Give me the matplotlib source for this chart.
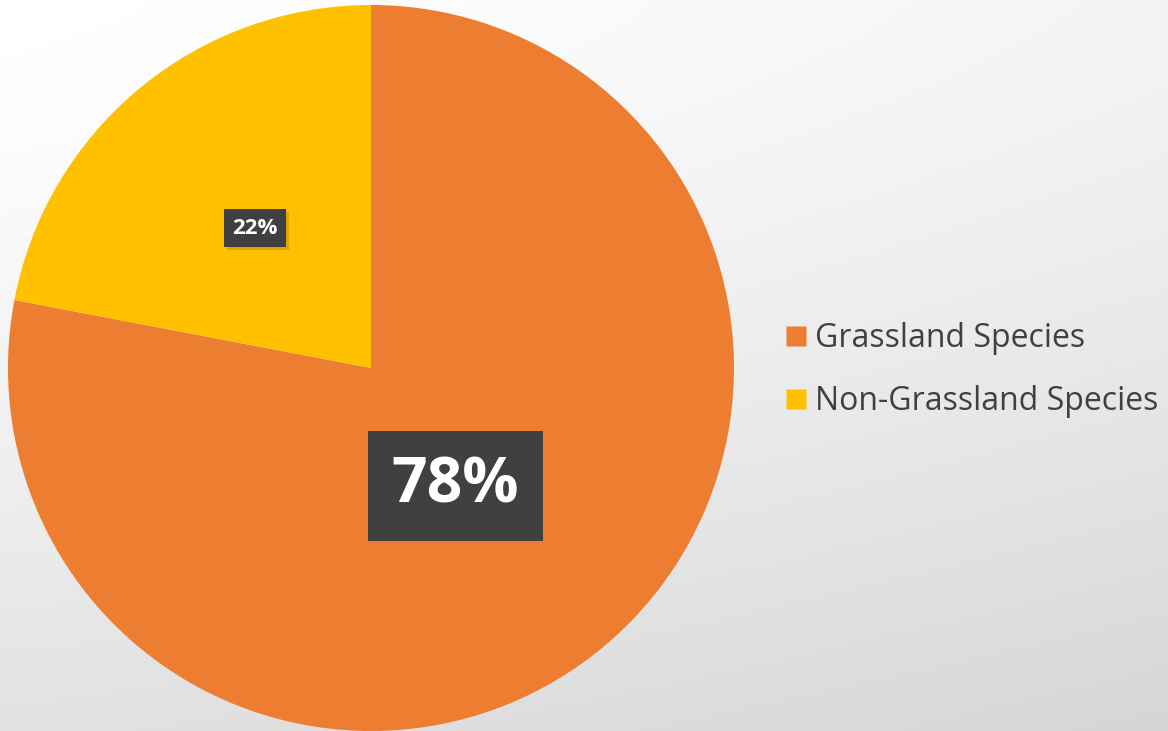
import numpy as np
import matplotlib
matplotlib.use('Agg')
import matplotlib.pyplot as plt
from matplotlib.lines import Line2D
import matplotlib.patheffects as pe

categories = ['Grassland Species', 'Non-Grassland Species']
shares = [78, 22]
colors = ['#ED7D31', '#FFC000']
label_sizes = [45, 16]
label_dist = [0.40, 0.50]
label_shift = [-4, 0]   # degrees, nudge off the wedge middle

fig = plt.figure(figsize=(11.68, 7.31), dpi=100)

# soft grey background gradient
bg = fig.add_axes([0, 0, 1, 1])
yy, xx = np.mgrid[0:1:300j, 0:1:480j]
shade = 255 - 12 * xx ** 1.2 - 30 * yy ** 1.3
bg.imshow(shade, cmap='gray', vmin=0, vmax=255, aspect='auto', extent=[0, 1, 1, 0])
bg.axis('off')

ax = fig.add_axes([8 / 1168, 0, 726 / 1168, 726 / 731])
wedges, _ = ax.pie(shares, colors=colors, startangle=90, counterclock=False,
                   radius=1, wedgeprops=dict(linewidth=0))
ax.set_xlim(-1, 1)
ax.set_ylim(-1, 1)
ax.set_aspect('equal')
ax.axis('off')

for w, val, size, d, sh in zip(wedges, shares, label_sizes, label_dist, label_shift):
    ang = np.deg2rad((w.theta1 + w.theta2) / 2 + sh)
    t = ax.text(d * np.cos(ang), d * np.sin(ang), f'{val}%', ha='center', va='center',
                color='white', fontsize=size, fontweight='bold', family='Open Sans',
                bbox=dict(boxstyle='square,pad=0.38', facecolor='#404040', edgecolor='none'))
    if val < 50:
        t.get_bbox_patch().set_path_effects([
            pe.SimplePatchShadow(offset=(2, -2), shadow_rgbFace='#7a6000', alpha=0.25),
            pe.Normal()])

handles = [Line2D([], [], linestyle='none', marker='s', markersize=14.5,
                  markerfacecolor=c, markeredgecolor='none') for c in colors]
leg = fig.legend(handles, categories, loc='center left', bbox_to_anchor=(756 / 1168, 1 - 370 / 731),
                 frameon=False, handlelength=0.7, handletextpad=0.25,
                 labelspacing=0.95, prop={'family': 'Open Sans', 'size': 23})
for t in leg.get_texts():
    t.set_color('#404040')

fig.savefig('out.png', dpi=100)
